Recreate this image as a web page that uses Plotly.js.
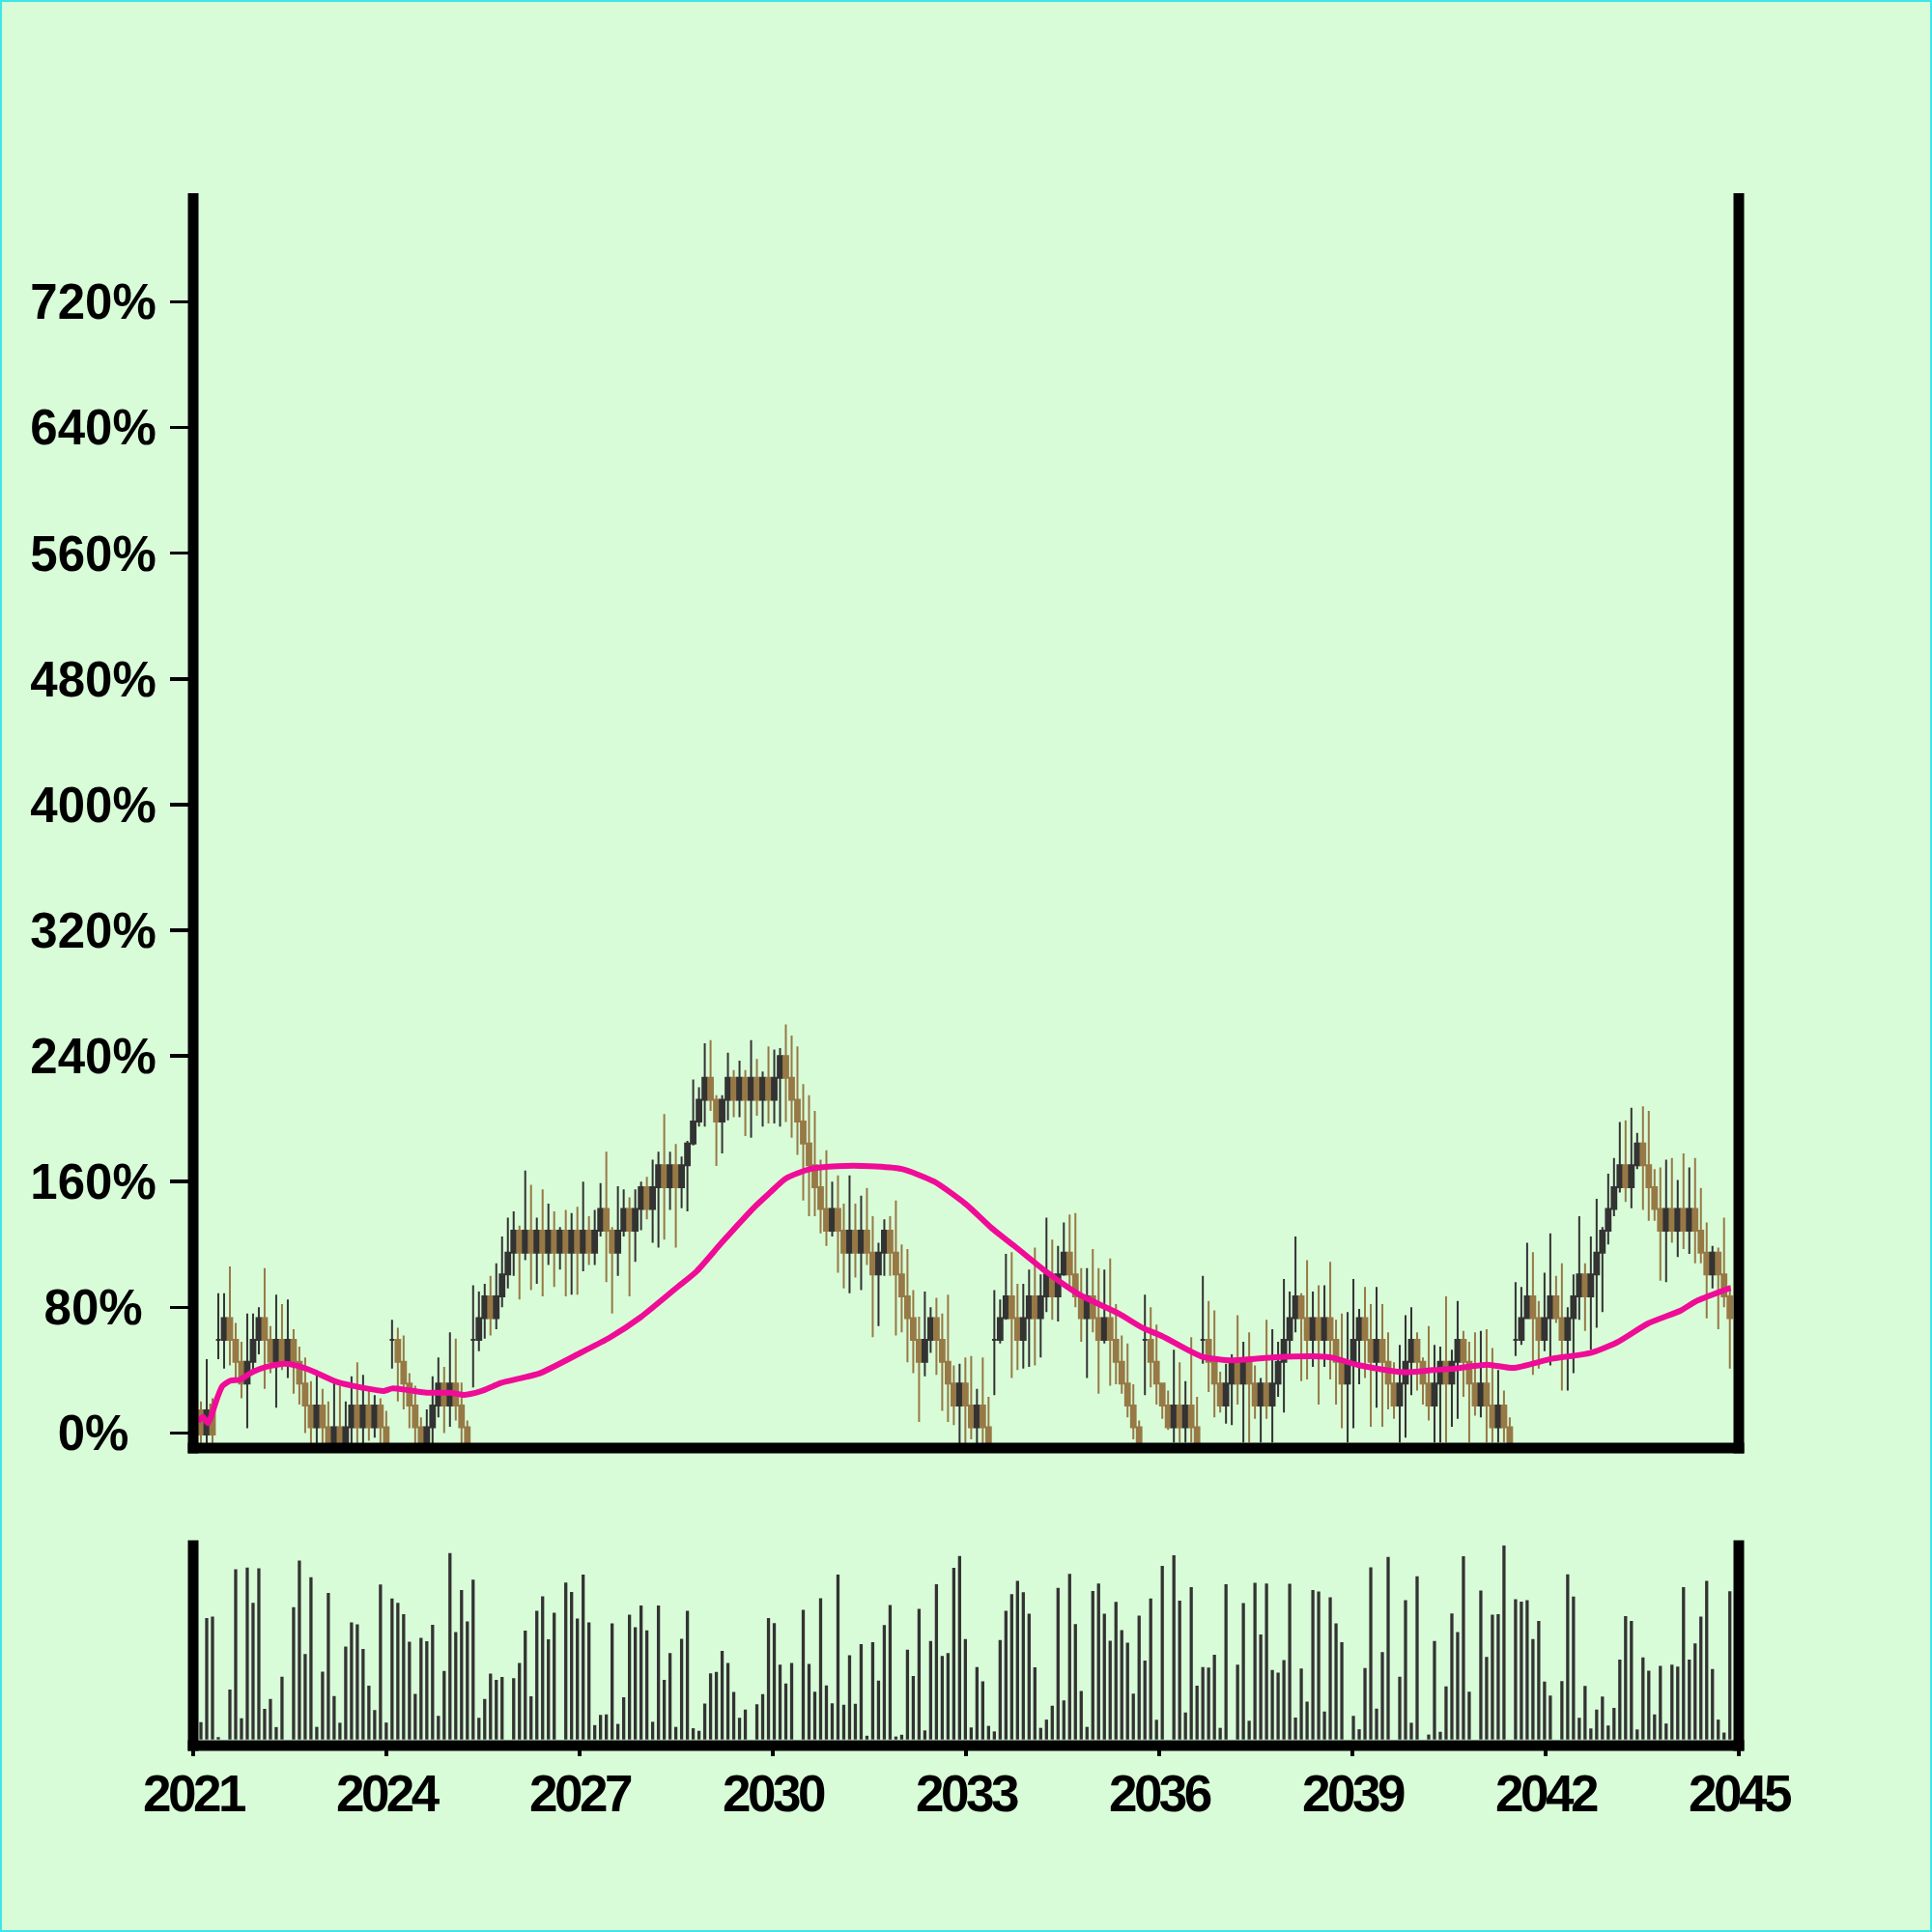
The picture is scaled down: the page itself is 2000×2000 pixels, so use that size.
<!DOCTYPE html>
<html>
<head>
<meta charset="utf-8">
<script src="https://cdn.plot.ly/plotly-3.0.1.min.js"></script>
<style>
  html, body { margin: 0; padding: 0; background: #d9fcd8; }
  #wrap { position: relative; width: 2000px; height: 2000px; }
  #chart { width: 2000px; height: 2000px; }
  #frame { position: absolute; left: 0; top: 0; width: 2000px; height: 2000px; box-sizing: border-box;
           border: 2px solid #3ee6e6; pointer-events: none; }
  .xtick text { letter-spacing: -3.5px; }
  .ytick text { letter-spacing: -4px; }
</style>
</head>
<body>
<div id="wrap"><div id="chart"></div><div id="frame"></div></div>
<script>
// ---- data (percent change), one value per period ----
const open = [
  0, 14.4, -1, 18, 59.2, 59.2, 73.1, 59.2, 45.3, 31.4,
  45.3, 59.2, 73.1, 59.2, 45.3, 59.2, 45.3, 59.2, 45.3, 31.4,
  17.5, 3.6, 17.5, 3.6, -10.3, 3.6, -10.3, 3.6, 17.5, 3.6,
  17.5, 3.6, 17.5, 3.6, 59.2, 59.2, 45.3, 31.4, 17.5, 3.6,
  -10.3, 3.6, 17.5, 31.4, 17.5, 31.4, 17.5, 3.6, 59.2, 59.2,
  73.1, 87, 73.1, 87, 100.9, 114.8, 128.7, 114.8, 128.7, 114.8,
  128.7, 114.8, 128.7, 114.8, 128.7, 114.8, 128.7, 114.8, 128.7, 114.8,
  128.7, 142.6, 128.7, 114.8, 128.7, 142.6, 128.7, 142.6, 156.5, 142.6,
  156.5, 170.4, 156.5, 170.4, 156.5, 170.4, 184.3, 198.2, 212.1, 226,
  212.1, 198.2, 212.1, 226, 212.1, 226, 212.1, 226, 212.1, 226,
  212.1, 226, 239.9, 226, 212.1, 198.2, 184.3, 170.4, 156.5, 142.6,
  128.7, 142.6, 128.7, 114.8, 128.7, 114.8, 128.7, 114.8, 100.9, 114.8,
  128.7, 114.8, 100.9, 87, 73.1, 59.2, 45.3, 59.2, 73.1, 59.2,
  45.3, 31.4, 17.5, 31.4, 17.5, 3.6, 17.5, 3.6, 59.2, 59.2,
  73.1, 87, 73.1, 59.2, 73.1, 87, 73.1, 87, 100.9, 87,
  100.9, 114.8, 100.9, 87, 73.1, 87, 73.1, 59.2, 73.1, 59.2,
  45.3, 31.4, 17.5, 3.6, 59.2, 59.2, 45.3, 31.4, 17.5, 3.6,
  17.5, 3.6, 17.5, 3.6, 59.2, 59.2, 45.3, 31.4, 17.5, 31.4,
  45.3, 31.4, 45.3, 31.4, 17.5, 31.4, 17.5, 31.4, 45.3, 59.2,
  73.1, 87, 73.1, 59.2, 73.1, 59.2, 73.1, 59.2, 45.3, 31.4,
  45.3, 59.2, 73.1, 59.2, 45.3, 59.2, 45.3, 31.4, 17.5, 31.4,
  45.3, 59.2, 45.3, 31.4, 17.5, 31.4, 45.3, 31.4, 45.3, 59.2,
  45.3, 31.4, 17.5, 31.4, 17.5, 3.6, 17.5, 3.6, 59.2, 59.2,
  73.1, 87, 73.1, 59.2, 73.1, 87, 73.1, 59.2, 73.1, 87,
  100.9, 87, 100.9, 114.8, 128.7, 142.6, 156.5, 170.4, 156.5, 170.4,
  184.3, 170.4, 156.5, 142.6, 128.7, 142.6, 128.7, 142.6, 128.7, 142.6,
  128.7, 114.8, 100.9, 114.8, 100.9, 87
];
const close = [
  14.4, -1, 14.4, -1, 59.2, 73.1, 59.2, 45.3, 31.4, 45.3,
  59.2, 73.1, 59.2, 45.3, 59.2, 45.3, 59.2, 45.3, 31.4, 17.5,
  3.6, 17.5, 3.6, -10.3, 3.6, -10.3, 3.6, 17.5, 3.6, 17.5,
  3.6, 17.5, 3.6, -10.3, 59.2, 45.3, 31.4, 17.5, 3.6, -10.3,
  3.6, 17.5, 31.4, 17.5, 31.4, 17.5, 3.6, -10.3, 59.2, 73.1,
  87, 73.1, 87, 100.9, 114.8, 128.7, 114.8, 128.7, 114.8, 128.7,
  114.8, 128.7, 114.8, 128.7, 114.8, 128.7, 114.8, 128.7, 114.8, 128.7,
  142.6, 128.7, 114.8, 128.7, 142.6, 128.7, 142.6, 156.5, 142.6, 156.5,
  170.4, 156.5, 170.4, 156.5, 170.4, 184.3, 198.2, 212.1, 226, 212.1,
  198.2, 212.1, 226, 212.1, 226, 212.1, 226, 212.1, 226, 212.1,
  226, 239.9, 226, 212.1, 198.2, 184.3, 170.4, 156.5, 142.6, 128.7,
  142.6, 128.7, 114.8, 128.7, 114.8, 128.7, 114.8, 100.9, 114.8, 128.7,
  114.8, 100.9, 87, 73.1, 59.2, 45.3, 59.2, 73.1, 59.2, 45.3,
  31.4, 17.5, 31.4, 17.5, 3.6, 17.5, 3.6, -10.3, 59.2, 73.1,
  87, 73.1, 59.2, 73.1, 87, 73.1, 87, 100.9, 87, 100.9,
  114.8, 100.9, 87, 73.1, 87, 73.1, 59.2, 73.1, 59.2, 45.3,
  31.4, 17.5, 3.6, -10.3, 59.2, 45.3, 31.4, 17.5, 3.6, 17.5,
  3.6, 17.5, 3.6, -10.3, 59.2, 45.3, 31.4, 17.5, 31.4, 45.3,
  31.4, 45.3, 31.4, 17.5, 31.4, 17.5, 31.4, 45.3, 59.2, 73.1,
  87, 73.1, 59.2, 73.1, 59.2, 73.1, 59.2, 45.3, 31.4, 45.3,
  59.2, 73.1, 59.2, 45.3, 59.2, 45.3, 31.4, 17.5, 31.4, 45.3,
  59.2, 45.3, 31.4, 17.5, 31.4, 45.3, 31.4, 45.3, 59.2, 45.3,
  31.4, 17.5, 31.4, 17.5, 3.6, 17.5, 3.6, -10.3, 59.2, 73.1,
  87, 73.1, 59.2, 73.1, 87, 73.1, 59.2, 73.1, 87, 100.9,
  87, 100.9, 114.8, 128.7, 142.6, 156.5, 170.4, 156.5, 170.4, 184.3,
  170.4, 156.5, 142.6, 128.7, 142.6, 128.7, 142.6, 128.7, 142.6, 128.7,
  114.8, 100.9, 114.8, 100.9, 87, 73.1
];
const high = [
  20, 20, 47, 22, 89, 89, 106, 70, 58, 76,
  76, 80, 105, 68, 88, 82, 85, 66, 55, 48,
  33, 40, 28, 20, 34, 30, 20, 36, 45, 37,
  28, 24, 22, 14, 72, 67, 62, 38, 30, 10,
  15, 36, 48, 42, 64, 60, 32, 8, 94, 90,
  95, 100, 108, 125, 137, 141, 132, 167, 158, 137,
  155, 146, 141, 131, 142, 140, 144, 160, 138, 142,
  159, 179, 131, 157, 155, 150, 155, 160, 163, 174,
  179, 203, 179, 184, 176, 186, 225, 220, 248, 250,
  215, 215, 242, 231, 237, 231, 250, 238, 230, 246,
  244, 245, 260, 253, 246, 222, 215, 205, 174, 180,
  160, 164, 146, 164, 146, 151, 156, 138, 121, 136,
  138, 148, 120, 117, 91, 74, 90, 80, 86, 76,
  88, 43, 44, 48, 49, 28, 48, 23, 91, 85,
  114, 115, 95, 95, 104, 118, 101, 137, 123, 119,
  134, 139, 140, 105, 105, 117, 105, 104, 111, 82,
  62, 57, 31, 8, 88, 80, 69, 32, 27, 53,
  45, 33, 61, 23, 100, 84, 78, 39, 44, 50,
  75, 58, 64, 43, 35, 72, 66, 58, 98, 90,
  125, 89, 110, 90, 94, 94, 109, 72, 76, 77,
  98, 79, 93, 82, 93, 82, 64, 45, 56, 75,
  80, 64, 48, 68, 56, 55, 87, 53, 84, 65,
  58, 64, 65, 66, 54, 40, 27, 10, 96, 93,
  121, 115, 84, 102, 127, 100, 108, 80, 101, 138,
  108, 125, 149, 131, 165, 175, 198, 199, 207, 191,
  208, 205, 168, 169, 174, 175, 161, 178, 169, 175,
  156, 134, 119, 118, 137, 94
];
const low = [
  -6, -8, -8, -8, 47, 41, 43, 35, 22, 3,
  40, 50, 28, 38, 16, 40, 35, 25, 18, 0,
  -10, -10, -10, -12, -12, -12, -12, -10, -10, -10,
  -5, -3, -10, -12, 41, 20, 15, 3, -10, -12,
  -12, -10, 10, 0, 4, 8, -10, -12, 29, 52,
  60, 62, 66, 80, 92, 100, 85, 110, 91, 95,
  87, 107, 93, 104, 87, 88, 88, 103, 107, 107,
  125, 96, 76, 100, 125, 87, 109, 129, 136, 121,
  118, 123, 142, 118, 143, 141, 183, 195, 195, 205,
  170, 178, 199, 201, 201, 189, 188, 202, 195, 197,
  197, 195, 198, 188, 177, 148, 138, 138, 127, 119,
  125, 102, 92, 89, 99, 91, 107, 61, 68, 100,
  100, 62, 64, 45, 38, 7, 36, 51, 37, 14,
  7, 5, -10, -10, -4, -10, -10, -12, 24, 57,
  72, 35, 40, 41, 42, 43, 48, 77, 72, 71,
  100, 90, 80, 58, 35, 64, 25, 57, 30, 31,
  25, 10, -4, -12, 24, 29, 18, 9, 2, -6,
  -6, -6, -6, -12, 44, 26, 10, 13, 6, 5,
  18, -6, -6, 9, -6, 9, -6, 23, 13, 47,
  64, 33, 34, 42, 18, 42, 34, 18, 3, -6,
  3, 31, 35, 4, 16, 4, 15, 9, -6, -3,
  24, 27, 18, 8, -6, -6, -6, 4, 9, 23,
  -6, 11, 10, -6, -6, -6, -6, -12, 49, 56,
  73, 37, 41, 52, 43, 70, 27, 27, 38, 72,
  65, 53, 67, 77, 120, 138, 153, 147, 143, 168,
  142, 135, 135, 97, 96, 121, 112, 117, 114, 108,
  108, 73, 92, 66, 80, 41
];
const volume = [
  30, 8.8, 61.7, 62.5, 1.2, 0, 25.4, 86.5, 10.8, 87.4,
  69.5, 87, 15.5, 20.6, 6.3, 31.9, 0, 67.3, 90.9, 43.4,
  82.5, 6.4, 34.5, 74.5, 22.1, 8.5, 47.2, 59.5, 58.5, 46,
  27.4, 15, 78.8, 8.6, 71.7, 69.5, 63.7, 49.7, 23.2, 51.7,
  49.9, 58.3, 12, 34.8, 94.8, 54.6, 75.9, 60, 81.3, 11,
  20.6, 33.5, 30.3, 31.8, 0, 31.1, 38.9, 55.3, 22, 65.4,
  72.8, 50.9, 64.4, 0, 79.8, 75, 61.5, 83.8, 59.5, 7.3,
  12.5, 12.7, 59, 7.9, 21.5, 63.4, 57.1, 68.1, 55.4, 9,
  68.1, 30.3, 43.9, 6.4, 51.2, 65.4, 5.7, 4.4, 18.3, 33.6,
  34.3, 45, 38.9, 24.2, 11, 15.2, 0, 17.9, 23, 61.7,
  59.2, 38, 28.4, 38.9, 0, 65.9, 38.4, 24.3, 71.8, 27.5,
  18.4, 83.8, 17.7, 42.8, 18.1, 48.5, 1.9, 49.5, 29.9, 58.1,
  68.4, 1.5, 2.4, 45.6, 32.3, 66.4, 4.6, 50, 78.9, 42.4,
  43.9, 87.2, 93.3, 51, 6.1, 36.8, 29.6, 6.9, 4.1, 50.5,
  65.4, 73.9, 80.6, 74.9, 63.9, 36.7, 5.9, 10.1, 17.1, 77.1,
  19.9, 84.2, 58.6, 24.7, 6.4, 75.5, 79.3, 63.9, 50.2, 70,
  55.6, 49.2, 23.3, 62.9, 40.1, 71.7, 10, 88.2, 0, 93.6,
  70.5, 13.7, 77.4, 27.4, 36.8, 36.5, 43.1, 5.9, 78.9, 0,
  38, 69.3, 9.5, 79.6, 53.4, 79.3, 35.3, 34, 40.4, 79.1,
  11.2, 36, 19.3, 75.9, 75.2, 14.2, 72.3, 59, 49.5, 0,
  12, 5.2, 36.3, 87.5, 15.7, 44.4, 92.8, 0, 31.9, 70.8,
  8.5, 83, 0, 2.5, 50, 3.9, 27, 64.1, 54.6, 93.1,
  24.3, 0, 75.7, 41.9, 63.4, 63.7, 98.7, 0, 71.3, 70.1,
  70.8, 51, 60.3, 29.4, 22.3, 0, 29.7, 84, 72.7, 11,
  27.2, 5.6, 15.2, 21.8, 7.1, 16.1, 40.6, 62.7, 60.2, 5.1,
  41.7, 35, 12.7, 37.4, 8.1, 38, 37, 77.4, 40.6, 48.8,
  62.4, 80.6, 35.8, 10.1, 3.5, 75.4
];
// moving-average line at period positions
const maPeriod = [0.5, 1.35, 2.2, 3.85, 4.7, 6.1, 7.7, 10, 12.2, 15.5, 17.7, 20.5, 24.5, 29, 32.6, 34, 36.7, 40, 44, 46.5,
  49.5, 52.8, 59.5, 66.7, 71.5, 77, 83.1, 86.5, 90.9, 96.5, 99.2, 102, 106.2, 110.9, 116.5, 122, 127.6, 133.1, 137.6, 141.5,
  147, 152.6, 159.5, 163.7, 167, 173.7, 178.7, 186.5, 193.1, 196.5, 200.9, 208.7, 213.7, 217.6, 223.1, 227.6, 234.2, 240.9,
  245.4, 250.9, 256.5, 259.3, 265.1];
const maValue = [7.2, 10.3, 6.2, 22.6, 29.8, 33.3, 33.9, 39, 42, 44.1, 42.7, 39, 32.4, 28.7, 26.7, 28.3, 27.3, 25.6, 25.6, 24.2,
  26.7, 31.8, 38, 51.3, 60.5, 73.9, 92.3, 102.5, 121, 143.5, 152.8, 162, 168, 169.8, 169.8, 168, 160, 145.6, 130.2, 118.9,
  102.5, 88.2, 75.9, 66.7, 61.6, 48.8, 46.2, 48.2, 48.8, 47.8, 43.1, 38.6, 40, 41, 43.5, 41.4, 47.2, 50.9,
  57.4, 69.7, 77.9, 84.1, 92.3];
const yTicks = [0, 80, 160, 240, 320, 400, 480, 560, 640, 720];
// labels padded with no-break spaces so that each label sits centred in the gutter
const yTickText = ['0%\u00A0\u00A0', '80%\u00A0', '160%', '240%', '320%', '400%', '480%', '560%', '640%', '720%'];

// period calendar: first period mid-January 2021, ~32.85 days per period
const firstPeriod = Date.UTC(2021, 0, 12);
const periodDays = 32.846;
function periodDate(p) {
  return new Date(firstPeriod + p * periodDays * 86400000).toISOString().slice(0, 19).replace('T', ' ');
}
const dates = open.map((_, i) => periodDate(i));
const maDates = maPeriod.map(periodDate);

const DARK = '#333333', BROWN = '#977946', PINK = '#ef0c97';

const traces = [
  { type: 'bar', x: dates, y: volume, xaxis: 'x', yaxis: 'y', marker: { color: DARK }, hoverinfo: 'skip' },
  { type: 'candlestick', x: dates, open: open, high: high, low: low, close: close, xaxis: 'x2', yaxis: 'y2',
    increasing: { line: { color: DARK, width: 2 }, fillcolor: DARK },
    decreasing: { line: { color: BROWN, width: 2 }, fillcolor: BROWN },
    whiskerwidth: 0, hoverinfo: 'skip' },
  { type: 'scatter', mode: 'lines', x: maDates, y: maValue, xaxis: 'x2', yaxis: 'y2',
    line: { color: PINK, width: 6, shape: 'spline', smoothing: 0.6 }, hoverinfo: 'skip' }
];

const pb = 0.19226, vt = 0.12953;
const ex = 5.5 / 1600, ey = 5.5 / 1602, cap = 5 / 1602;
function seg(x0, y0, x1, y1) {
  return { type: 'line', xref: 'paper', yref: 'paper', x0: x0, y0: y0, x1: x1, y1: y1,
           line: { color: '#000', width: 11 }, layer: 'above' };
}
const FONT = '"Liberation Sans", Arial, Helvetica, sans-serif';

const layout = {
  width: 2000, height: 2000,
  paper_bgcolor: '#d9fcd8', plot_bgcolor: '#d9fcd8',
  margin: { l: 200, r: 200, t: 205, b: 193, pad: 0 },
  showlegend: false, hovermode: false,
  boxgap: 0.2, boxgroupgap: 0, bargap: 0.45,
  xaxis: { domain: [0, 1], anchor: 'y', type: 'date', range: ['2021-01-01', '2045-01-01'],
    tick0: '2021-01-01', dtick: 'M36', tickformat: '%Y', ticks: 'outside', ticklen: 10, tickwidth: 3.5,
    tickcolor: '#000', showgrid: false, zeroline: false, showline: false,
    tickfont: { family: FONT, size: 53, color: '#000', weight: 700 },
    ticklabelstandoff: -7, rangeslider: { visible: false } },
  xaxis2: { domain: [0, 1], anchor: 'y2', matches: 'x', type: 'date', range: ['2021-01-01', '2045-01-01'],
    showticklabels: false, ticks: '', showgrid: false, zeroline: false, showline: false,
    rangeslider: { visible: false } },
  yaxis: { domain: [0, vt], anchor: 'x', range: [-3.1, 98.8], showticklabels: false, ticks: '',
    showgrid: false, zeroline: false, showline: false },
  yaxis2: { domain: [pb, 1], anchor: 'x2', range: [-9.6, 786.1], tickmode: 'array', tickvals: yTicks,
    ticktext: yTickText, ticks: 'outside', ticklen: 23, tickwidth: 3.5, tickcolor: '#000',
    showgrid: false, zeroline: false, showline: false,
    tickfont: { family: FONT, size: 51, color: '#000', weight: 700 }, ticklabelstandoff: 4 },
  shapes: [
    seg(0, pb - ey, 0, 1 + cap), seg(1, pb - ey, 1, 1 + cap), seg(-ex, pb, 1 + ex, pb),
    seg(0, -ey, 0, vt + cap), seg(1, -ey, 1, vt + cap), seg(-ex, 0, 1 + ex, 0)
  ]
};

Plotly.newPlot('chart', traces, layout, { staticPlot: true, displayModeBar: false });
</script>
</body>
</html>
